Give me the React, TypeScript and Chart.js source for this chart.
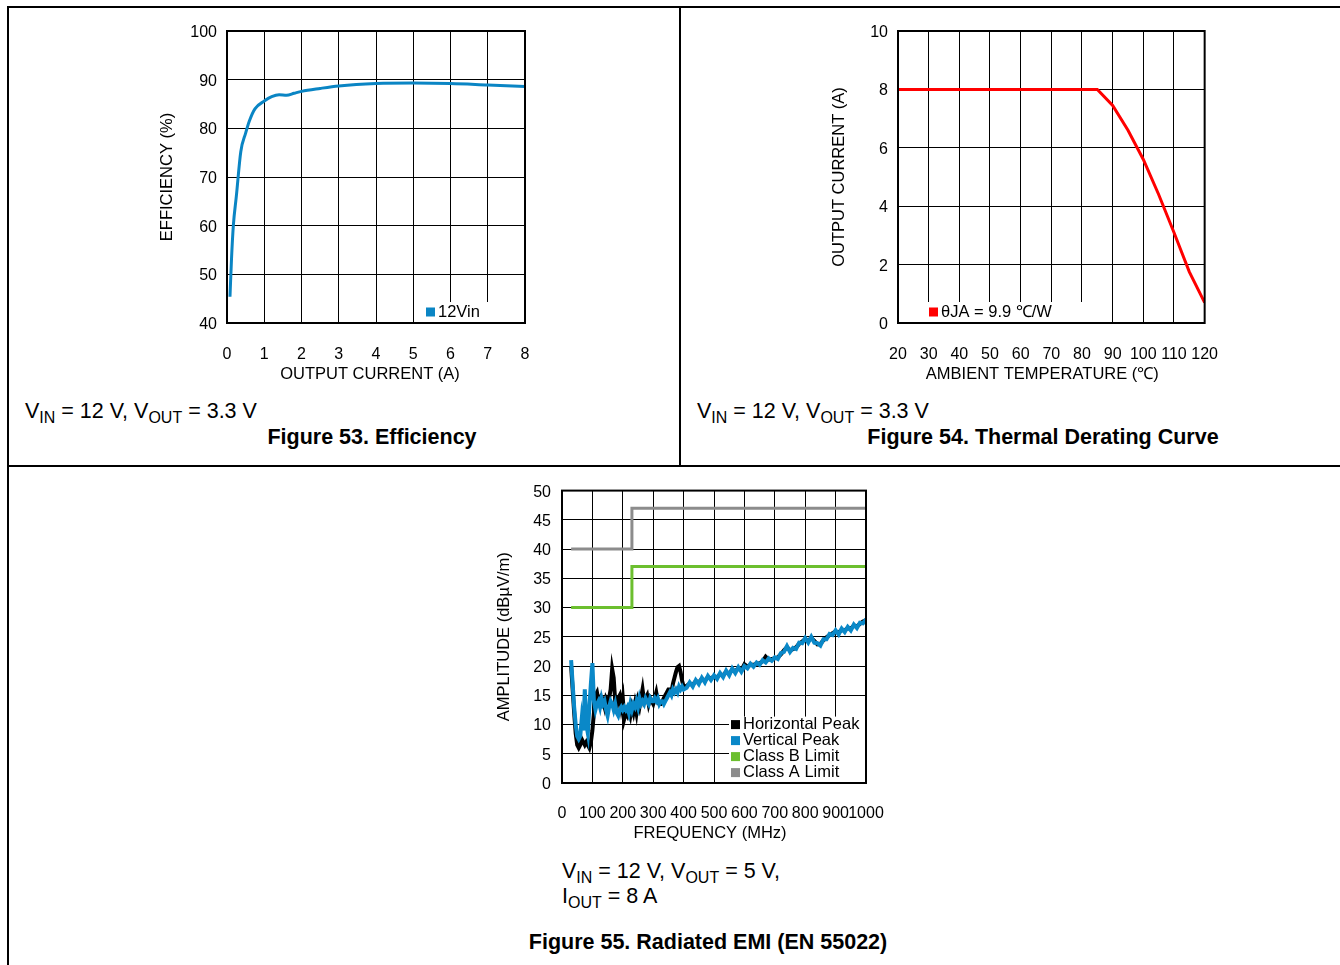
import React, { useEffect, useRef } from "react";
import { Chart, registerables } from "chart.js";
Chart.register(...registerables);

const FONT = 'Arial, "Liberation Sans", Helvetica, sans-serif';

// ---------- Figure 53: Efficiency ----------
const effCurrentA = [0.08, 0.12, 0.17, 0.25, 0.37, 0.5, 0.6, 0.75, 1.0, 1.2, 1.4, 1.6, 1.8, 2.0, 2.5, 3.0, 4.0, 5.0, 6.0, 7.0, 8.0];
const effPercent = [45.4, 53, 60, 66, 75.2, 79, 81.5, 84, 85.6, 86.5, 86.9, 86.8, 87.2, 87.6, 88.2, 88.7, 89.2, 89.3, 89.2, 88.9, 88.6];
const effXTicks = [0, 1, 2, 3, 4, 5, 6, 7, 8];
const effYTicks = [40, 50, 60, 70, 80, 90, 100];

// ---------- Figure 54: Thermal derating ----------
const derTempC = [20, 85, 90, 95, 100, 105, 110, 115, 120];
const derCurrentA = [8, 8, 7.45, 6.6, 5.6, 4.4, 3.1, 1.75, 0.7];
const derXTicks = [20, 30, 40, 50, 60, 70, 80, 90, 100, 110, 120];
const derYTicks = [0, 2, 4, 6, 8, 10];

// ---------- Figure 55: Radiated EMI ----------
const emiFreq = [
  30, 35, 40, 45, 50, 55, 60, 65, 70, 75, 80, 85, 90, 95, 100, 105, 110, 115, 120, 125,
  130, 135, 140, 145, 150, 155, 160, 165, 170, 175, 180, 185, 190, 195, 200,
  205, 210, 215, 220, 225, 230, 235, 240, 245, 250, 255, 260, 265, 270, 275, 280, 285, 290, 295, 300,
  305, 310, 315, 320, 325, 330, 335, 340, 345, 350, 355, 360, 365, 370, 375, 380, 385, 390, 395, 400,
  410, 420, 430, 440, 450, 460, 470, 480, 490, 500,
  510, 520, 530, 540, 550, 560, 570, 580, 590, 600,
  610, 620, 630, 640, 650, 660, 670, 680, 690, 700,
  710, 720, 730, 740, 750, 760, 770, 780, 790, 800,
  810, 820, 830, 840, 850, 860, 870, 880, 890, 900,
  910, 920, 930, 940, 950, 960, 970, 980, 990, 1000,
];
const verticalPeak = [
  21, 17, 13, 10, 8, 7.5, 8, 11, 9, 16, 10, 8.5, 13, 17, 20.5, 14, 12.5, 13.5, 14, 13,
  14.5, 13.5, 14, 12.5, 11.5, 13, 14, 13.5, 12.5, 13.5, 12, 11.5, 12.5, 13, 12.5,
  13, 12.5, 13, 12, 13.5, 12.5, 13.5, 13, 14, 13, 14.5, 13.5, 14, 13.5, 14.5, 14, 13.5, 14.5, 14, 14,
  14.5, 14, 14.5, 13.5, 14, 14, 13.5, 14, 14.5, 15, 15.5, 15, 16, 15.5, 16, 15.5, 16.5, 16, 16.5, 16,
  16.3, 17.2, 16.5, 17.6, 16.9, 18, 17.2, 18.3, 17.6, 18.4,
  17.8, 18.8, 18.1, 19.2, 18.4, 19.6, 18.8, 19.8, 19, 20,
  19.6, 20.4, 19.9, 20.6, 20.2, 21, 20.6, 21.3, 20.9, 21.5,
  21.2, 22.2, 22.4, 23.4, 22.4, 23.1, 22.9, 24, 23.9, 24.8,
  24, 25, 24, 23.9, 23.5, 24.6, 24.6, 25.5, 25.3, 26.1,
  25.4, 26.4, 25.8, 26.7, 26.1, 27.1, 26.5, 27.4, 27.3, 28,
];
const horizontalPeak = [
  20, 16, 12, 8.5, 6.5, 6, 6.5, 7.5, 7, 6.5, 7, 6.5, 6, 7, 9, 12, 15, 15.5, 14, 14.5,
  13.5, 14, 13, 14.5, 14, 14.5, 16, 19.5, 18, 14, 13, 14.5, 15, 13, 14.5,
  11, 12, 11.5, 12.5, 11.5, 13, 12, 13.5, 12, 14, 13, 14.5, 16, 14, 14.5, 15, 13.5, 14.5, 14, 13.5,
  14.5, 15.5, 14, 13.5, 13.5, 14, 14.5, 15, 15.5, 16, 16, 15.5, 17, 18, 19, 19.8, 20, 19, 17.5, 16.5,
  16.6, 17, 16.8, 17.4, 17.2, 17.8, 17.5, 18.1, 17.9, 18.2,
  18.1, 18.6, 18.4, 19, 18.7, 19.4, 19.1, 19.6, 19.3, 20.3,
  19.9, 20.2, 20.2, 20.4, 20.5, 20.8, 21.6, 21.1, 21.2, 21.3,
  21.5, 22, 22.7, 23.2, 22.7, 22.9, 23.2, 23.8, 24.2, 24.6,
  24.3, 24.8, 24.3, 23.7, 23.8, 24.4, 24.9, 25.3, 25.6, 25.9,
  25.7, 26.2, 26.1, 26.5, 26.4, 26.9, 26.8, 27.2, 27.6, 27.8,
];
const classAFreq = [30, 230, 230, 1000];
const classAValue = [40, 40, 47, 47];
const classBFreq = [30, 230, 230, 1000];
const classBValue = [30, 30, 37, 37];
const emiXTicks = [0, 100, 200, 300, 400, 500, 600, 700, 800, 900, 1000];
const emiYTicks = [0, 5, 10, 15, 20, 25, 30, 35, 40, 45, 50];

const pts = (xs: number[], ys: number[]) => xs.map((x, i) => ({ x, y: ys[i] }));

type LegendSpec = {
  x: number; y: number; w: number; h: number;
  mx: number; tx: number; y0: number; dy: number;
  items: { label: string; color: string }[];
  xTitle: string; xTitleDx: number; xTitleDy: number;
};

function makeFramePlugin(lg: LegendSpec) {
  return {
    id: "frameLegend",
    afterLayout(chart: any) {
      try {
        const s = chart.scales.y;
        if (s && !s.__shifted && typeof s._computeLabelItems === "function") {
          const orig = s._computeLabelItems.bind(s);
          s._computeLabelItems = (ca: any) =>
            orig(ca).map((it: any) => {
              const t = it.options && it.options.translation;
              if (!t) return it;
              return { ...it, options: { ...it.options, translation: [t[0], t[1] + 1.5] } };
            });
          s.__shifted = true;
        }
      } catch (e) {
        /* ignore */
      }
    },
    afterDraw(chart: any) {
      const { ctx, chartArea: a } = chart;
      ctx.save();
      ctx.fillStyle = "#fff";
      ctx.fillRect(a.left + lg.x, a.top + lg.y, lg.w, lg.h);
      ctx.font = `16.5px ${FONT}`;
      ctx.textBaseline = "middle";
      ctx.textAlign = "left";
      lg.items.forEach((it, i) => {
        const cy = a.top + lg.y0 + i * lg.dy;
        ctx.fillStyle = it.color;
        ctx.fillRect(a.left + lg.mx, cy - 4.5, 9, 9);
        ctx.fillStyle = "#000";
        ctx.fillText(it.label, a.left + lg.tx, cy);
      });
      // x-axis title
      ctx.textAlign = "center";
      ctx.fillStyle = "#000";
      ctx.fillText(lg.xTitle, (a.left + a.right) / 2 + lg.xTitleDx, a.bottom + lg.xTitleDy);
      ctx.strokeStyle = "#000";
      ctx.lineWidth = 2;
      ctx.strokeRect(a.left, a.top, a.right - a.left, a.bottom - a.top);
      ctx.restore();
    },
  };
}

function axis(opt: {
  min: number; max: number; ticks: number[]; title: string;
  horizontal: boolean; size: number; tickPad: number; titlePad: number;
}) {
  return {
    type: "linear",
    min: opt.min,
    max: opt.max,
    afterBuildTicks: (s: any) => {
      s.ticks = opt.ticks.map((v) => ({ value: v }));
    },
    afterFit: (s: any) => {
      if (opt.horizontal) s.height = opt.size;
      else s.width = opt.size;
    },
    grid: { color: "#000", lineWidth: 1, drawTicks: false },
    border: { display: false },
    ticks: {
      padding: opt.tickPad,
      color: "#000",
      font: { family: FONT, size: 16 },
      autoSkip: false,
      maxRotation: 0,
      minRotation: 0,
      callback: (v: any) => String(v),
    },
    title: {
      display: !opt.horizontal,
      text: opt.title,
      color: "#000",
      font: { family: FONT, size: 16.5 },
      padding: { top: opt.titlePad, bottom: 0 },
    },
  };
}

function useChart(ref: React.RefObject<HTMLCanvasElement>, build: () => any) {
  useEffect(() => {
    if (!ref.current) return;
    const chart = new Chart(ref.current, build());
    return () => chart.destroy();
  }, []);
}

const baseOptions = {
  animation: false,
  responsive: false,
  maintainAspectRatio: false,
  plugins: { legend: { display: false }, tooltip: { enabled: false } },
  elements: { point: { radius: 0 } },
};

export default function App() {
  const c1 = useRef<HTMLCanvasElement>(null);
  const c2 = useRef<HTMLCanvasElement>(null);
  const c3 = useRef<HTMLCanvasElement>(null);

  useChart(c1, () => ({
    type: "line",
    data: {
      datasets: [
        {
          label: "12Vin",
          data: pts(effCurrentA, effPercent),
          borderColor: "#0a85c4",
          borderWidth: 3,
          cubicInterpolationMode: "monotone",
          fill: false,
        },
      ],
    },
    options: {
      ...baseOptions,
      layout: { padding: { top: 21, right: 45, left: 0, bottom: 0 } },
      scales: {
        x: axis({ min: 0, max: 8, ticks: effXTicks, title: "OUTPUT CURRENT (A)", horizontal: true, size: 72, tickPad: 22, titlePad: 0 }),
        y: axis({ min: 40, max: 100, ticks: effYTicks, title: "EFFICIENCY (%)", horizontal: false, size: 97, tickPad: 10, titlePad: 28 }),
      },
    },
    plugins: [
      makeFramePlugin({
        x: 191, y: 271, w: 70, h: 21, mx: 199, tx: 211, y0: 281, dy: 16,
        items: [{ label: "12Vin", color: "#0a85c4" }],
        xTitle: "OUTPUT CURRENT (A)", xTitleDx: -6, xTitleDy: 51,
      }),
    ],
  }));

  useChart(c2, () => ({
    type: "line",
    data: {
      datasets: [
        {
          label: "θJA = 9.9 ℃/W",
          data: pts(derTempC, derCurrentA),
          borderColor: "#ff0000",
          borderWidth: 3,
          tension: 0,
          fill: false,
        },
      ],
    },
    options: {
      ...baseOptions,
      layout: { padding: { top: 21, right: 35, left: 0, bottom: 0 } },
      scales: {
        x: axis({ min: 20, max: 120, ticks: derXTicks, title: "AMBIENT TEMPERATURE (℃)", horizontal: true, size: 72, tickPad: 22, titlePad: 0 }),
        y: axis({ min: 0, max: 10, ticks: derYTicks, title: "OUTPUT CURRENT (A)", horizontal: false, size: 98, tickPad: 10, titlePad: 30 }),
      },
    },
    plugins: [
      makeFramePlugin({
        x: 26, y: 271, w: 171, h: 21, mx: 31, tx: 43, y0: 281, dy: 16,
        items: [{ label: "θJA = 9.9 ℃/W", color: "#ff0000" }],
        xTitle: "AMBIENT TEMPERATURE (℃)", xTitleDx: -9, xTitleDy: 51,
      }),
    ],
  }));

  useChart(c3, () => ({
    type: "line",
    data: {
      datasets: [
        { label: "Vertical Peak", data: pts(emiFreq, verticalPeak), borderColor: "#0a88c8", borderWidth: 4, tension: 0, order: 0 },
        { label: "Horizontal Peak", data: pts(emiFreq, horizontalPeak), borderColor: "#000000", borderWidth: 4, tension: 0, order: 1 },
        { label: "Class B Limit", data: pts(classBFreq, classBValue), borderColor: "#6cbf2f", borderWidth: 3, tension: 0, order: 2 },
        { label: "Class A Limit", data: pts(classAFreq, classAValue), borderColor: "#8c8c8c", borderWidth: 3, tension: 0, order: 2 },
      ],
    },
    options: {
      ...baseOptions,
      layout: { padding: { top: 20, right: 44, left: 0, bottom: 0 } },
      scales: {
        x: axis({ min: 0, max: 1000, ticks: emiXTicks, title: "FREQUENCY (MHz)", horizontal: true, size: 72, tickPad: 21, titlePad: 0 }),
        y: axis({ min: 0, max: 50, ticks: emiYTicks, title: "AMPLITUDE (dBµV/m)", horizontal: false, size: 82, tickPad: 11, titlePad: 15 }),
      },
    },
    plugins: [
      makeFramePlugin({
        x: 167, y: 226, w: 137, h: 67, mx: 169, tx: 181, y0: 234, dy: 16,
        items: [
          { label: "Horizontal Peak", color: "#000000" },
          { label: "Vertical Peak", color: "#0a88c8" },
          { label: "Class B Limit", color: "#6cbf2f" },
          { label: "Class A Limit", color: "#8c8c8c" },
        ],
        xTitle: "FREQUENCY (MHz)", xTitleDx: -4, xTitleDy: 50,
      }),
    ],
  }));

  const line = (l: number, t: number, w: number, h: number) => (
    <div style={{ position: "absolute", left: l, top: t, width: w, height: h, background: "#000" }} />
  );
  const txt: React.CSSProperties = {
    position: "absolute",
    fontFamily: FONT,
    fontSize: 21.5,
    lineHeight: "22px",
    whiteSpace: "nowrap",
    color: "#000",
  };
  const sub: React.CSSProperties = { fontSize: 16, position: "relative", top: 5 };
  const bold: React.CSSProperties = { ...txt, fontWeight: "bold", transform: "translateX(-50%)" };

  return (
    <div style={{ position: "absolute", left: 0, top: 0, width: 1340, height: 965, background: "#fff", overflow: "hidden" }}>
      {line(7, 6, 1333, 2)}
      {line(7, 6, 2, 959)}
      {line(679, 6, 2, 460)}
      {line(7, 465, 1333, 2)}

      <canvas ref={c1} width={440} height={385} style={{ position: "absolute", left: 130, top: 10, width: 440, height: 385 }} />
      <canvas ref={c2} width={440} height={385} style={{ position: "absolute", left: 800, top: 10, width: 440, height: 385 }} />
      <canvas ref={c3} width={430} height={385} style={{ position: "absolute", left: 480, top: 470, width: 430, height: 385 }} />

      <div style={{ ...txt, left: 25, top: 400 }}>
        V<span style={sub}>IN</span> = 12 V, V<span style={sub}>OUT</span> = 3.3 V
      </div>
      <div style={{ ...bold, left: 372, top: 426 }}>Figure 53. Efficiency</div>

      <div style={{ ...txt, left: 697, top: 400 }}>
        V<span style={sub}>IN</span> = 12 V, V<span style={sub}>OUT</span> = 3.3 V
      </div>
      <div style={{ ...bold, left: 1043, top: 426 }}>Figure 54. Thermal Derating Curve</div>

      <div style={{ ...txt, left: 562, top: 860 }}>
        V<span style={sub}>IN</span> = 12 V, V<span style={sub}>OUT</span> = 5 V,
      </div>
      <div style={{ ...txt, left: 562, top: 885 }}>
        I<span style={sub}>OUT</span> = 8 A
      </div>
      <div style={{ ...bold, left: 708, top: 931 }}>Figure 55. Radiated EMI (EN 55022)</div>
    </div>
  );
}
